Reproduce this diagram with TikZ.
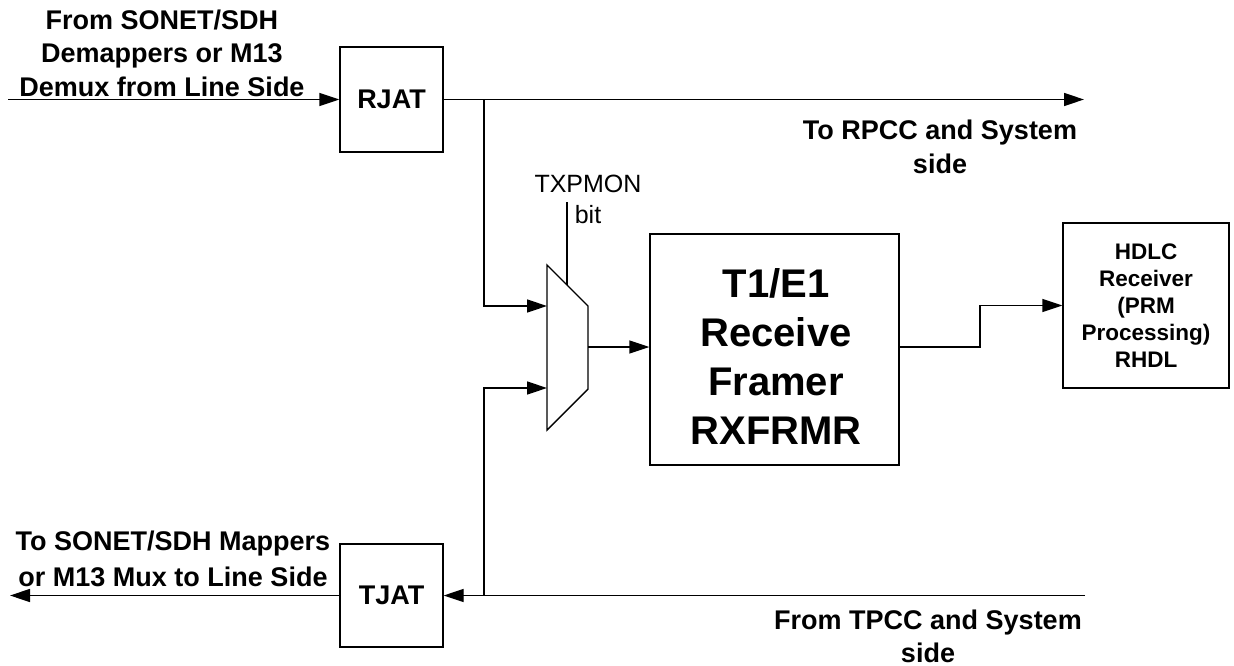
\documentclass[tikz,border=0pt]{standalone}
\usepackage{fontspec}
\setmainfont{Liberation Sans}
\usetikzlibrary{arrows.meta}
\begin{document}
\begin{tikzpicture}[x=1pt,y=-1pt, line width=1.4pt,
  arr/.style={-{Triangle[length=20pt,width=13pt]}},
  blk/.style={draw, inner sep=0pt, align=center},
  lbl/.style={font=\bfseries\fontsize{27}{34}\selectfont, align=center, inner sep=0pt, anchor=north}]
\useasboundingbox (0,0) rectangle (1234,666);

% blocks
\node[blk, minimum width=103pt, minimum height=105pt, font=\bfseries\fontsize{27}{30}\selectfont] (rjat) at (391.5,99.5) {RJAT};
\node[blk, minimum width=103pt, minimum height=103pt, font=\bfseries\fontsize{27}{30}\selectfont] (tjat) at (391.5,595.5) {TJAT};
\node[blk, minimum width=249pt, minimum height=231pt] (framer) at (774.5,349.5) {};
\node[align=center, inner sep=0pt, font=\bfseries\fontsize{40}{49}\selectfont] (framertxt) at (776,357) {T1/E1\\Receive\\Framer\\RXFRMR};
\node[blk, minimum width=166pt, minimum height=165pt, font=\bfseries\fontsize{22.5}{27}\selectfont] (hdlc) at (1146,305.5) {HDLC\\Receiver\\(PRM\\Processing)\\RHDL};

% multiplexer
\draw (547,265) -- (588,306) -- (588,389) -- (547,430) -- cycle;
\coordinate (muxin1) at (547,306);
\coordinate (muxin2) at (547,388);
\coordinate (muxout) at (588,347);
\coordinate (muxsel) at (567,285);

% free ends and branch points
\coordinate (src) at (8,99.5);
\coordinate (rpcc) at (1084,99.5);
\coordinate (b1) at (484,99.5);
\coordinate (tpcc) at (1085,595.5);
\coordinate (b2) at (484,595.5);
\coordinate (dst) at (10,595.5);
\coordinate (sel) at (567,202);
\coordinate (bend) at (980,347);

% connectors
\draw[arr] (src) -- (rjat.west);
\draw[arr] (rjat.east) -- (rpcc);
\draw[arr] (b1) |- (muxin1);
\draw[arr] (tpcc) -- (tjat.east);
\draw[arr] (b2) |- (muxin2);
\draw[arr] (tjat.west) -- (dst);
\draw (sel) -- (muxsel);
\draw[arr] (muxout) -- (muxout -| framer.west);
\draw[arr] (framer.east |- muxout) -- (bend) |- (hdlc.west);

% labels
\node[lbl, font=\bfseries\fontsize{27}{33.5}\selectfont] (inlbl) at (162,9) {From SONET/SDH\\Demappers or M13\\Demux from Line Side};
\node[lbl, font=\bfseries\fontsize{27}{36}\selectfont] (outlbl) at (173,530) {To SONET/SDH Mappers\\or M13 Mux to Line Side};
\node[lbl, font=\bfseries\fontsize{27}{34}\selectfont] (rpcclbl) at (940,119) {To RPCC and System\\side};
\node[lbl, font=\bfseries\fontsize{27}{33}\selectfont] (tpcclbl) at (928,609) {From TPCC and System\\side};
\node[font=\fontsize{25}{31}\selectfont, align=center, inner sep=0pt, anchor=north] (txp) at (588,174) {TXPMON\\bit};
\end{tikzpicture}
\end{document}
